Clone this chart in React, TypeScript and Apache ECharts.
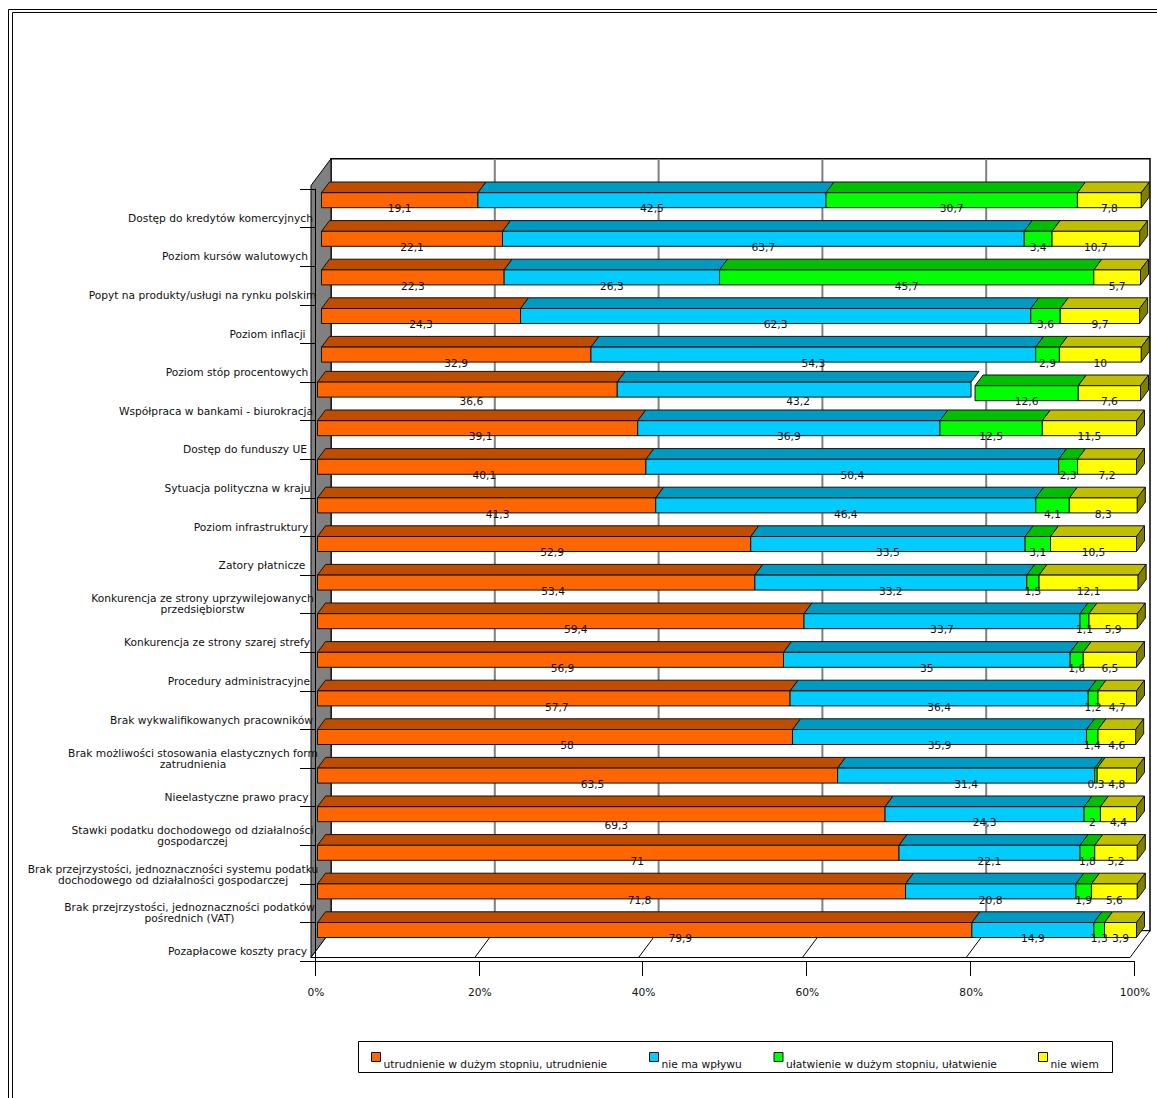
import React, { useEffect, useRef } from "react";
import * as echarts from "echarts";

const categories = [
  "Dostęp do kredytów komercyjnych",
  "Poziom kursów walutowych",
  "Popyt na produkty/usługi na rynku polskim",
  "Poziom inflacji",
  "Poziom stóp procentowych",
  "Współpraca w bankami - biurokracja",
  "Dostęp do funduszy UE",
  "Sytuacja polityczna w kraju",
  "Poziom infrastruktury",
  "Zatory płatnicze",
  "Konkurencja ze strony uprzywilejowanych\nprzedsiębiorstw",
  "Konkurencja ze strony szarej strefy",
  "Procedury administracyjne",
  "Brak wykwalifikowanych pracowników",
  "Brak możliwości stosowania elastycznych form\nzatrudnienia",
  "Nieelastyczne prawo pracy",
  "Stawki podatku dochodowego od działalności\ngospodarczej",
  "Brak przejrzystości, jednoznaczności systemu podatku\ndochodowego od działalności gospodarczej",
  "Brak przejrzystości, jednoznaczności podatków\npośrednich (VAT)",
  "Pozapłacowe koszty pracy",
];

const seriesNames = [
  "utrudnienie w dużym stopniu, utrudnienie",
  "nie ma wpływu",
  "ułatwienie w dużym stopniu, ułatwienie",
  "nie wiem",
];

const hampering = [19.1, 22.1, 22.3, 24.3, 32.9, 36.6, 39.1, 40.1, 41.3, 52.9, 53.4, 59.4, 56.9, 57.7, 58, 63.5, 69.3, 71, 71.8, 79.9];
const noEffect = [42.5, 63.7, 26.3, 62.3, 54.3, 43.2, 36.9, 50.4, 46.4, 33.5, 33.2, 33.7, 35, 36.4, 35.9, 31.4, 24.3, 22.1, 20.8, 14.9];
const easing = [30.7, 3.4, 45.7, 3.6, 2.9, 12.6, 12.5, 2.3, 4.1, 3.1, 1.5, 1.1, 1.6, 1.2, 1.4, 0.3, 2, 1.8, 1.9, 1.3];
const dontKnow = [7.8, 10.7, 5.7, 9.7, 10, 7.6, 11.5, 7.2, 8.3, 10.5, 12.1, 5.9, 6.5, 4.7, 4.6, 4.8, 4.4, 5.2, 5.6, 3.9];
const seriesValues = [hampering, noEffect, easing, dontKnow];

const frontColors = ["#ff6600", "#00ccff", "#00ff00", "#ffff00"];
const topColors = ["#bf4d00", "#0099bf", "#00bf00", "#bfbf00"];
const sideColor = "#808000";
const edgeColor = "#111111";
const textColor = "#111111";
const fontFamily = "DejaVu Sans";
const fontSize = 10.67;

// Horizontal centre of every category caption, and where each legend entry starts.
const captionCentres = [220.5, 235, 202.5, 267.5, 237, 216, 245, 237.5, 251, 262, 202.5, 217, 239, 211.5, 193, 236.5, 192.5, 173, 189.5, 237.5];
const legendStarts = [371, 649, 773.5, 1038];

// Hand placement of the first series' value labels.
const firstLabelNudgeX = [0, 0, 0, 0, 0, 0, 3, 2.6, 11, 18, 17, 15, 12, 3, 12, 15, 15, 29, 28, 35.6];
const firstLabelNudgeY = [0, 0, 0, 0, 0, 0, 0, 0, 0, 0, 0, 0, 0, 0, 0, 0, 3, 0, 0, 0];

const GRID = { left: 315, top: 189, width: 819, height: 772 };
const CAPTION_DROP = 10;
const BAR_DEPTH = { x: 8, y: 10.7 };
const BOX_DEPTH = { x: 20, y: 26.8 };
const ANCHOR_X = 295;

const LOWER_ROW = 6;
const isRaised = (seriesIndex: number, row: number) =>
  row < LOWER_ROW - 1 || (row === LOWER_ROW - 1 && seriesIndex >= 2);

const formatValue = (v: number) => String(v).replace(".", ",");

function segmentRenderer(seriesIndex: number) {
  return (_params: any, api: any) => {
    const row = api.value(0);
    const start = api.value(1);
    const end = api.value(2);
    const value = api.value(3);
    const [rawStart, centre] = api.coord([start, row]);
    const [rawEnd] = api.coord([end, row]);

    const raised = isRaised(seriesIndex, row);
    const dx = raised ? 6.5 : 2.5;
    const bottom = centre + (raised ? -0.6 : -4.2);
    const top = bottom - 15;
    const x0 = rawStart + dx;
    const x1 = rawEnd + dx;

    const children: any[] = [
      {
        type: "polygon",
        shape: {
          points: [
            [x0, top],
            [x1, top],
            [x1 + BAR_DEPTH.x, top - BAR_DEPTH.y],
            [x0 + BAR_DEPTH.x, top - BAR_DEPTH.y],
          ],
        },
        style: { fill: topColors[seriesIndex], stroke: edgeColor, lineWidth: 1 },
      },
      {
        type: "rect",
        shape: { x: x0, y: top, width: x1 - x0, height: bottom - top },
        style: { fill: frontColors[seriesIndex], stroke: edgeColor, lineWidth: 1 },
      },
    ];

    if (seriesIndex === 3) {
      children.push({
        type: "polygon",
        shape: {
          points: [
            [x1, top],
            [x1 + BAR_DEPTH.x, top - BAR_DEPTH.y],
            [x1 + BAR_DEPTH.x, bottom - BAR_DEPTH.y],
            [x1, bottom],
          ],
        },
        style: { fill: sideColor, stroke: edgeColor, lineWidth: 1 },
      });
    }

    // Value labels sit on the lower edge of the bar and always follow the raised or lowered row.
    const labelRaised = row < LOWER_ROW;
    const labelDx = labelRaised ? 6.5 : 2.5;
    const labelBottom = centre + (labelRaised ? -0.6 : -4.2);
    const nudgeX = seriesIndex === 0 ? firstLabelNudgeX[row] : 0;
    const nudgeY = seriesIndex === 0 ? firstLabelNudgeY[row] : 0;
    children.push({
      type: "text",
      z2: 100,
      style: {
        text: formatValue(value),
        x: (rawStart + rawEnd) / 2 + labelDx + nudgeX,
        y: labelBottom + 1.2 + nudgeY,
        align: "center",
        verticalAlign: "middle",
        fill: textColor,
        fontFamily,
        fontSize,
      },
    });

    return { type: "group", children };
  };
}

// The open box behind the bars: back wall, left wall, floor and the gridlines on them.
function boxRenderer(params: any, api: any) {
  const { x, y, width, height } = params.coordSys;
  const left = x - 4;
  const right = left + width;
  const bottom = y + height - 3.5;
  const top = y - 3.5;
  const back = { left: left + BOX_DEPTH.x, right: right + BOX_DEPTH.x, top: top - BOX_DEPTH.y, bottom: bottom - BOX_DEPTH.y };
  const line = { stroke: "#000000", lineWidth: 1 };

  const children: any[] = [
    {
      type: "rect",
      shape: { x: back.left, y: back.top, width: back.right - back.left, height: back.bottom - back.top },
      style: { fill: "#ffffff", stroke: "#000000", lineWidth: 1.5 },
    },
    {
      type: "polygon",
      shape: { points: [[left, top], [back.left, back.top], [back.left, back.bottom], [left, bottom]] },
      style: { fill: "#808080", ...line },
    },
    {
      type: "polygon",
      shape: { points: [[left, bottom], [back.left, back.bottom], [back.right, back.bottom], [right, bottom]] },
      style: { fill: "#ffffff", ...line },
    },
  ];

  [20, 40, 60, 80].forEach((tick) => {
    const tx = api.coord([tick, 0])[0] - 4;
    children.push({
      type: "line",
      shape: { x1: tx + BOX_DEPTH.x, y1: back.top, x2: tx + BOX_DEPTH.x, y2: back.bottom },
      style: { stroke: "#808080", lineWidth: 2 },
    });
    children.push({
      type: "line",
      shape: { x1: tx, y1: bottom, x2: tx + BOX_DEPTH.x, y2: back.bottom },
      style: line,
    });
  });

  return { type: "group", children };
}

function buildOption() {
  const customSeries = seriesValues.map((values, seriesIndex) => ({
    type: "custom",
    name: seriesNames[seriesIndex],
    coordinateSystem: "cartesian2d",
    renderItem: segmentRenderer(seriesIndex),
    itemStyle: { color: frontColors[seriesIndex] },
    encode: { y: 0, x: [1, 2] },
    data: values.map((value, row) => {
      const start = seriesValues.slice(0, seriesIndex).reduce((sum, s) => sum + s[row], 0);
      return [row, start, start + value, value];
    }),
  }));

  return {
    animation: false,
    backgroundColor: "#ffffff",
    textStyle: { fontFamily },
    // The second grid exists only to carry the category captions, which hang below their bands.
    grid: [
      { ...GRID, containLabel: false },
      { ...GRID, top: GRID.top + CAPTION_DROP, containLabel: false },
    ],
    xAxis: [
      {
        type: "value",
        min: 0,
        max: 100,
        interval: 20,
        position: "bottom",
        splitLine: { show: false },
        axisLine: { show: true, lineStyle: { color: "#000000", width: 1 } },
        axisTick: { show: true, length: 15, lineStyle: { color: "#000000", width: 1 } },
        axisLabel: {
          margin: 26,
          color: textColor,
          fontFamily,
          fontSize,
          padding: [0, 0, 0, 2],
          formatter: "{value}%",
        },
      },
      { type: "value", gridIndex: 1, min: 0, max: 100, show: false },
    ],
    yAxis: [
      {
        type: "category",
        inverse: true,
        data: categories,
        splitLine: { show: false },
        axisLine: { show: true, lineStyle: { color: "#000000", width: 1 } },
        axisTick: { show: true, length: 15, alignWithLabel: false, lineStyle: { color: "#000000", width: 1 } },
        axisLabel: { show: false },
      },
      {
        type: "category",
        gridIndex: 1,
        inverse: true,
        data: categories.map((value, row) => ({
          value,
          textStyle: {
            align: "center",
            lineHeight: 11,
            padding: [0, 2 * (ANCHOR_X - captionCentres[row]), 0, 0],
          },
        })),
        splitLine: { show: false },
        axisLine: { show: false },
        axisTick: { show: false },
        axisLabel: {
          interval: 0,
          margin: GRID.left - ANCHOR_X,
          hideOverlap: false,
          color: textColor,
          fontFamily,
          fontSize,
        },
      },
    ],
    legend: seriesNames.map((name, i) => ({
      data: [name],
      left: legendStarts[i],
      top: 1052,
      padding: 0,
      icon: "rect",
      itemWidth: 9,
      itemHeight: 9,
      selectedMode: false,
      itemStyle: { borderColor: "#111111", borderWidth: 1 },
      formatter: (text: string) => `{caption|${text}}`,
      textStyle: {
        color: textColor,
        fontFamily,
        fontSize,
        rich: {
          caption: {
            color: textColor,
            fontFamily,
            fontSize,
            verticalAlign: "top",
            padding: [15, 0, 0, -2],
          },
        },
      },
    })),
    graphic: [
      {
        type: "rect",
        silent: true,
        shape: { x: 8.5, y: 9.5, width: 1400, height: 1400 },
        style: { fill: "none", stroke: "#000000", lineWidth: 1 },
      },
      {
        type: "rect",
        silent: true,
        shape: { x: 12.5, y: 12.5, width: 1400, height: 1400 },
        style: { fill: "none", stroke: "#000000", lineWidth: 1 },
      },
      {
        type: "rect",
        silent: true,
        shape: { x: 358.5, y: 1041.5, width: 754, height: 31 },
        style: { fill: "#ffffff", stroke: "#000000", lineWidth: 1 },
      },
    ],
    series: [
      {
        type: "custom",
        coordinateSystem: "cartesian2d",
        z: -1,
        silent: true,
        renderItem: boxRenderer,
        encode: { x: 0, y: 1 },
        data: [[0, 0]],
      },
      ...customSeries,
    ],
  };
}

export default function App() {
  const ref = useRef<HTMLDivElement>(null);

  useEffect(() => {
    if (!ref.current) return;
    const chart = echarts.init(ref.current, undefined, { renderer: "svg" });
    chart.setOption(buildOption() as any);
    return () => chart.dispose();
  }, []);

  return (
    <div
      ref={ref}
      style={{ position: "absolute", left: 0, top: 0, width: 1157, height: 1098, overflow: "hidden" }}
    />
  );
}
